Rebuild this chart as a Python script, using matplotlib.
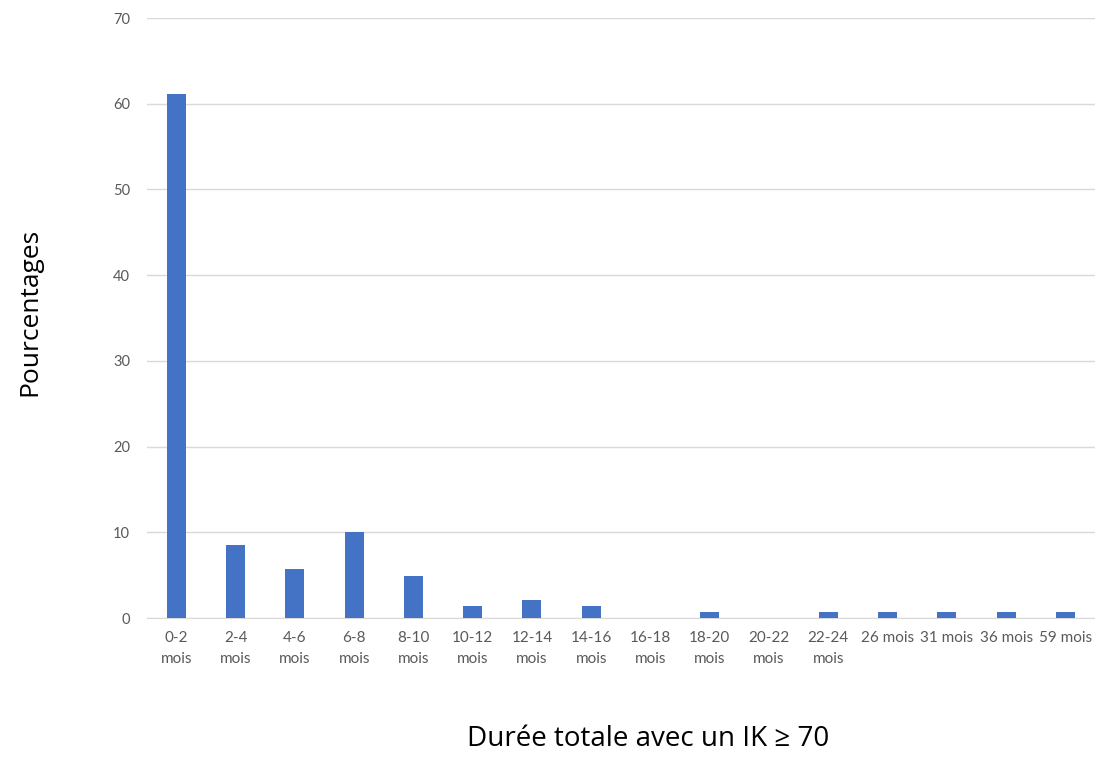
import matplotlib
matplotlib.use('Agg')
import matplotlib.pyplot as plt
import numpy as np

plt.rcParams['font.family'] = ['Lato', 'DejaVu Sans']

# catégories et pourcentages
categories = ['0-2\nmois', '2-4\nmois', '4-6\nmois', '6-8\nmois', '8-10\nmois',
              '10-12\nmois', '12-14\nmois', '14-16\nmois', '16-18\nmois',
              '18-20\nmois', '20-22\nmois', '22-24\nmois', '26 mois',
              '31 mois', '36 mois', '59 mois']
pourcentages = [61.1, 8.5, 5.7, 10.0, 4.9, 1.4, 2.1, 1.4, 0, 0.7, 0, 0.7,
                0.7, 0.7, 0.7, 0.7]
yticks = [0, 10, 20, 30, 40, 50, 60, 70]

fig = plt.figure(figsize=(10.95, 7.57), dpi=100)
ax = fig.add_axes([0.134, 0.1836, 0.866, 0.7926])

x = np.arange(len(categories))
ax.bar(x, pourcentages, width=0.32, color='#4472C4', zorder=3)

ax.set_xlim(-0.5, len(categories) - 0.5)
ax.set_ylim(0, 70)
ax.set_yticks(yticks)
ax.set_xticks(x)
ax.set_xticklabels(categories, fontsize=11, color='#595959', linespacing=1.7,
                   va='top')
ax.tick_params(axis='y', labelsize=10.5, labelcolor='#595959', length=0, pad=12)
ax.tick_params(axis='x', length=0, pad=9)
ax.grid(axis='y', color='#D9D9D9', linewidth=1, zorder=0)
for s in ['top', 'right', 'left']:
    ax.spines[s].set_visible(False)
ax.spines['bottom'].set_color('#D9D9D9')

fig.text(0.027, 0.588, 'Pourcentages', rotation=90, ha='center', va='center',
         fontsize=19, family=['Open Sans', 'DejaVu Sans'])
fig.text(0.592, 0.014, 'Durée totale avec un IK ≥ 70', ha='center',
         va='baseline', fontsize=20, family=['Open Sans', 'DejaVu Sans'])

fig.savefig('out.png', dpi=100)
